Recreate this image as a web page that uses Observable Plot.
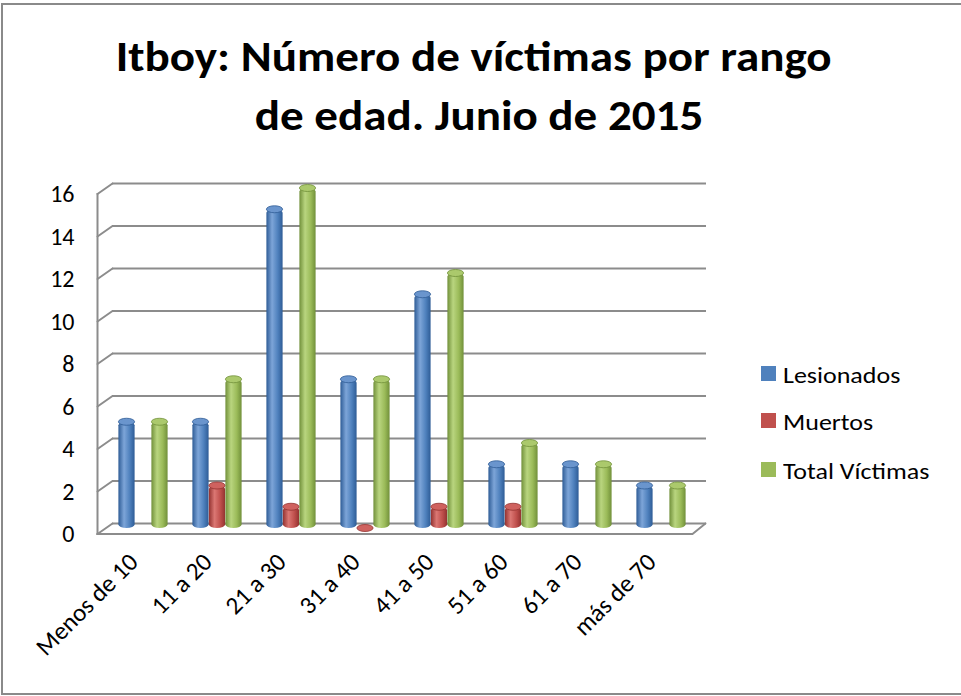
<!DOCTYPE html>
<html>
<head>
<meta charset="utf-8">
<script src="https://cdn.jsdelivr.net/npm/d3@7"></script>
<script src="https://cdn.jsdelivr.net/npm/@observablehq/plot@0.6"></script>
<style>
  body { margin: 0; background: #fff; }
  #wrap { position: relative; width: 961px; height: 696px; overflow: hidden;
          font-family: Carlito, Calibri, Lato, sans-serif; color: #000; }
  #border { position: absolute; left: 1px; top: 3px; width: 1000px; height: 692px;
            box-sizing: border-box; border: 2px solid #8a8a8a; pointer-events: none; }
  #chart { position: absolute; left: 0; top: 0; }
  #title { position: absolute; left: 0; top: 27px; width: 958px; text-align: center;
           font-weight: bold; font-size: 42px; line-height: 59px; white-space: pre;
           transform: scaleX(1.12); transform-origin: 479px 0; }
  .leg { position: absolute; left: 761px; height: 15px; display: flex; align-items: center;
         font-size: 23px; white-space: nowrap; }
  .leg .sw { width: 15px; height: 15px; margin-right: 7px; flex: none; }
  .leg span { display: inline-block; position: relative; top: 1px;
              transform: scaleX(1.13); transform-origin: 0 0; }
</style>
</head>
<body>
<div id="wrap">
  <div id="border"></div>
  <div id="chart"></div>
  <div id="title">Itboy: Número de víctimas por rango&nbsp;<br>de edad. Junio de 2015</div>
  <div id="legend"></div>
</div>
<script>
const categories = ["Menos de 10", "11 a 20", "21 a 30", "31 a 40", "41 a 50", "51 a 60", "61 a 70", "más de 70"];
const seriesNames = ["Lesionados", "Muertos", "Total Víctimas"];
const lesionados = [5, 5, 15, 7, 11, 3, 3, 2];
const muertos = [null, 2, 1, 0, 1, 1, null, null];
const totalVictimas = [5, 7, 16, 7, 12, 4, 3, 2];
const yTicks = [0, 2, 4, 6, 8, 10, 12, 14, 16];

const baseColors = ["#4F81BD", "#C0504D", "#9BBB59"];
const lightColors = ["#7DA5D8", "#DB7773", "#B9D57F"];
const darkColors = ["#2E5C96", "#933230", "#71903A"];
const capColors = ["#6A95CD", "#CF625F", "#ABC96C"];

const seriesValues = [lesionados, muertos, totalVictimas];
const seriesData = seriesValues.map((vals, k) =>
  categories.map((c, i) => ({ cat: c, series: seriesNames[k], value: vals[i] })));

const grid = "#8c8c8c";
const font = "Carlito, Calibri, Lato, sans-serif";
const inset = 28.9;

const barMarks = seriesData.flatMap((data, k) => {
  const off = (k - 1) * 16.5;
  return [
    Plot.barY(data, { x: "cat", y: "value", fill: `url(#cyl${k})`,
      insetLeft: inset, insetRight: inset, dx: off, rx: 8.25, ry: 3.5 }),
    Plot.barY(data, { x: "cat", y1: "value", y2: "value", fill: capColors[k],
      stroke: darkColors[k], strokeWidth: 0.8,
      insetLeft: inset, insetRight: inset, insetTop: -3.5, insetBottom: -3.5,
      dx: off, rx: 8.25, ry: 3.5 })
  ];
});

const chart = Plot.plot({
  width: 961,
  height: 696,
  marginTop: 188,
  marginBottom: 168,
  marginLeft: 104.5,
  marginRight: 262.5,
  style: { fontFamily: font, background: "transparent", color: "#000" },
  x: { type: "band", domain: categories, padding: 0, axis: null },
  y: { domain: [0, 16], axis: null },
  marks: [
    Plot.ruleY(yTicks, { y: d => d, dx: 7.5, dy: -5, stroke: grid, strokeWidth: 2 }),
    Plot.vector(yTicks, { y: d => d, frameAnchor: "left", dx: -7.5, dy: 5.5,
      length: 18.3, rotate: 55, r: 0, anchor: "start", stroke: grid, strokeWidth: 2 }),
    Plot.vector([0], { y: d => d, frameAnchor: "right", dx: -6.5, dy: 5.5,
      length: 16.7, rotate: 51, r: 0, anchor: "start", stroke: grid, strokeWidth: 2 }),
    Plot.frame({ anchor: "left", dx: -7.5, dy: 5.5, stroke: grid, strokeWidth: 2 }),
    Plot.frame({ anchor: "bottom", dx: -7.5, dy: 5.5, stroke: grid, strokeWidth: 2 }),
    ...barMarks,
    Plot.text(yTicks, { y: d => d, text: d => String(d), frameAnchor: "left",
      textAnchor: "end", dx: -30.5, dy: 6, fontSize: 24, fill: "#000" }),
    Plot.text(categories, { x: d => d, text: d => d, frameAnchor: "bottom",
      rotate: -45, textAnchor: "end", dx: -4, dy: 35, fontSize: 25, fill: "#000" })
  ]
});

// cylinder shading gradients
const defs = d3.select(chart).insert("defs", ":first-child");
baseColors.forEach((c, k) => {
  const g = defs.append("linearGradient").attr("id", `cyl${k}`)
    .attr("x1", 0).attr("x2", 1).attr("y1", 0).attr("y2", 0);
  [[0, darkColors[k]], [0.35, lightColors[k]], [0.7, c], [1, darkColors[k]]]
    .forEach(([o, col]) => g.append("stop").attr("offset", o).attr("stop-color", col));
});

document.getElementById("chart").appendChild(chart);

// legend
const legTops = [366, 413, 462];
const legend = document.getElementById("legend");
seriesNames.forEach((name, k) => {
  const row = document.createElement("div");
  row.className = "leg";
  row.style.top = legTops[k] + "px";
  const sw = document.createElement("div");
  sw.className = "sw";
  sw.style.background = baseColors[k];
  const label = document.createElement("span");
  label.textContent = name;
  row.appendChild(sw);
  row.appendChild(label);
  legend.appendChild(row);
});
</script>
</body>
</html>
